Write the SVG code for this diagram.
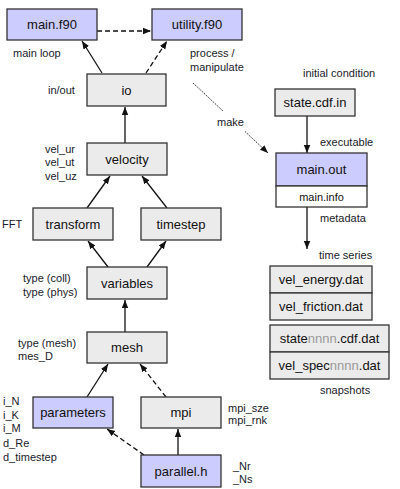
<svg xmlns="http://www.w3.org/2000/svg" width="400" height="489" viewBox="0 0 400 489">
<style>
.g{fill:#ebebeb;stroke:#333;stroke-width:1.3}
.b{fill:#ccccff;stroke:#333;stroke-width:1.3}
.w{fill:#ffffff;stroke:#333;stroke-width:1.3}
.t{font-family:"Liberation Sans",Arial,sans-serif;font-size:13px;fill:#111;text-anchor:middle}
.s{font-family:"Liberation Sans",Arial,sans-serif;font-size:11px;fill:#111;text-anchor:middle}
.l{font-family:"Liberation Sans",Arial,sans-serif;font-size:11px;fill:#1a1a2a}
.c{stroke:#111;stroke-width:1.3;fill:none;marker-end:url(#ah)}
.d{stroke-dasharray:5,3}
.dt{stroke:#333;stroke-width:1;stroke-dasharray:1.5,1;fill:none}
.gr{fill:#999}
</style>
<defs>
<marker id="ah" viewBox="0 0 10 10" refX="10" refY="5" markerWidth="8" markerHeight="8" markerUnits="userSpaceOnUse" orient="auto">
<path d="M0,1 L10,5 L0,9 z" fill="#111"/>
</marker>
</defs>
<g id="connectors">
<line class="c d" x1="97" y1="31" x2="151" y2="31"/>
<line class="c" x1="102" y1="73" x2="82" y2="41"/>
<line class="c d" x1="146" y1="73" x2="167" y2="41"/>
<line class="c" x1="125" y1="143" x2="125" y2="107"/>
<line class="c" x1="87" y1="208" x2="110" y2="176"/>
<line class="c" x1="167" y1="208" x2="142" y2="176"/>
<line class="c" x1="108" y1="267" x2="88" y2="241"/>
<line class="c" x1="147" y1="267" x2="166" y2="241"/>
<line class="c" x1="125" y1="332" x2="125" y2="300"/>
<line class="c" x1="87" y1="397" x2="108" y2="364"/>
<line class="c d" x1="166" y1="397" x2="140" y2="364"/>
<line class="c" x1="178" y1="455" x2="178" y2="429"/>
<line class="c d" x1="144" y1="455" x2="107" y2="429"/>
<line class="c" x1="307" y1="116" x2="307" y2="153"/>
<line class="c" x1="307" y1="207" x2="307" y2="249"/>
<line class="dt" x1="193" y1="83" x2="223" y2="111"/>
<line class="dt" x1="245" y1="131.5" x2="268" y2="153" marker-end="url(#ah)"/>
</g>
<g id="main_f90"><rect class="b" x="7" y="9" width="90" height="31"/><text class="t" x="52" y="29">main.f90</text></g>
<g id="utility_f90"><rect class="b" x="152" y="9" width="90" height="31"/><text class="t" x="197" y="29">utility.f90</text></g>
<g id="io"><rect class="g" x="87" y="74" width="79" height="32"/><text class="t" x="126.5" y="94.5">io</text></g>
<g id="velocity"><rect class="g" x="87" y="143" width="80" height="32"/><text class="t" x="127" y="163.5">velocity</text></g>
<g id="transform"><rect class="g" x="33" y="208" width="80" height="32"/><text class="t" x="73" y="228.5">transform</text></g>
<g id="timestep"><rect class="g" x="141" y="208" width="80" height="32"/><text class="t" x="181" y="228.5">timestep</text></g>
<g id="variables"><rect class="g" x="87" y="267" width="80" height="32"/><text class="t" x="127" y="287.5">variables</text></g>
<g id="mesh"><rect class="g" x="87" y="332" width="80" height="31"/><text class="t" x="127" y="352">mesh</text></g>
<g id="parameters"><rect class="b" x="33" y="397" width="80" height="31"/><text class="t" x="73" y="417">parameters</text></g>
<g id="mpi"><rect class="g" x="141" y="397" width="80" height="31"/><text class="t" x="181" y="417">mpi</text></g>
<g id="parallel_h"><rect class="b" x="141" y="455" width="80" height="32"/><text class="t" x="181" y="475.5">parallel.h</text></g>
<g id="state_cdf_in"><rect class="g" x="275" y="89" width="80" height="27"/><text class="t" x="315" y="107">state.cdf.in</text></g>
<g id="main_out"><rect class="b" x="276" y="153" width="91" height="33"/><text class="t" x="321.5" y="174">main.out</text><rect class="w" x="276" y="186" width="91" height="21"/><text class="s" x="321.5" y="200.5">main.info</text></g>
<g id="time_series"><rect class="g" x="270" y="266" width="102" height="27"/><text class="t" x="321" y="284">vel_energy.dat</text><rect class="g" x="270" y="293" width="102" height="27"/><text class="t" x="321" y="311">vel_friction.dat</text></g>
<g id="snapshots"><rect class="g" x="270" y="325" width="119" height="27"/><text class="t" x="329.5" y="343">state<tspan class="gr">nnnn</tspan>.cdf.dat</text><rect class="g" x="270" y="352" width="119" height="27"/><text class="t" x="329.5" y="370">vel_spec<tspan class="gr">nnnn</tspan>.dat</text></g>
<g id="labels">
<text class="l" x="13" y="57">main loop</text>
<text class="l" x="190" y="57">process /</text>
<text class="l" x="190" y="71">manipulate</text>
<text class="l" x="48" y="94">in/out</text>
<text class="l" x="303" y="77">initial condition</text>
<text class="l" x="217" y="126">make</text>
<text class="l" x="320" y="146">executable</text>
<text class="l" x="320" y="222">metadata</text>
<text class="l" x="319" y="259">time series</text>
<text class="l" x="320" y="394">snapshots</text>
<text class="l" x="45" y="153">vel_ur</text>
<text class="l" x="45" y="166">vel_ut</text>
<text class="l" x="45" y="180">vel_uz</text>
<text class="l" x="2" y="228">FFT</text>
<text class="l" x="23" y="282">type (coll)</text>
<text class="l" x="23" y="296">type (phys)</text>
<text class="l" x="18" y="347">type (mesh)</text>
<text class="l" x="18" y="360">mes_D</text>
<text class="l" x="3" y="405">i_N</text>
<text class="l" x="3" y="419">i_K</text>
<text class="l" x="3" y="432">i_M</text>
<text class="l" x="3" y="447">d_Re</text>
<text class="l" x="3" y="461">d_timestep</text>
<text class="l" x="228" y="412">mpi_sze</text>
<text class="l" x="228" y="424">mpi_rnk</text>
<text class="l" x="233" y="470">_Nr</text>
<text class="l" x="233" y="483">_Ns</text>
</g>
</svg>
